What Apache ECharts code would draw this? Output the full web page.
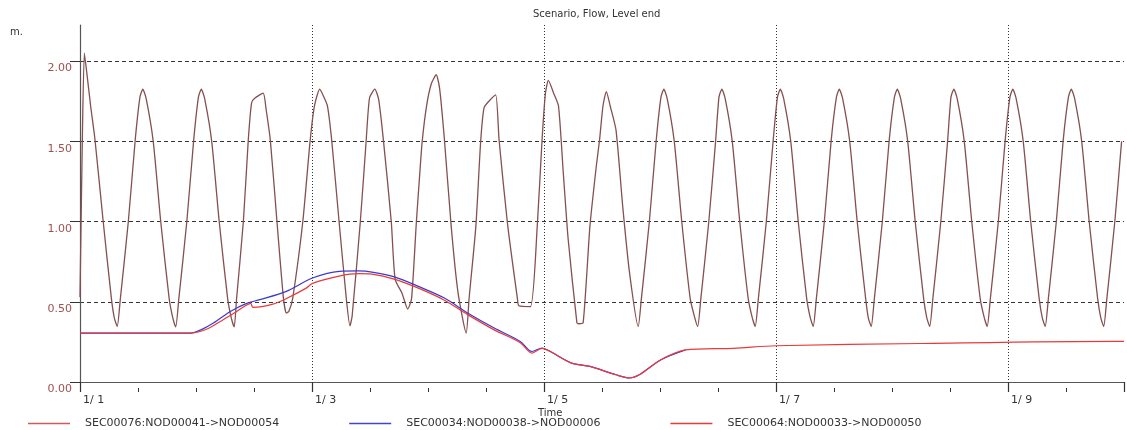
<!DOCTYPE html>
<html>
<head>
<meta charset="utf-8">
<script src="https://cdn.jsdelivr.net/npm/echarts@6/dist/echarts.min.js"></script>
<style>
  html, body { margin: 0; padding: 0; background: #ffffff; }
  #chart { width: 1127px; height: 430px; }
</style>
</head>
<body>
<div id="chart"></div>
<script>
// ---- data (x = hours since 1/1 00:00, y = level in m) ----
const seriesNames = ['SEC00076:NOD00041->NOD00054', 'SEC00034:NOD00038->NOD00006', 'SEC00064:NOD00033->NOD00050'];
const xTickHours = [0, 48, 96, 144, 192];
const yTickValues = [0, 0.5, 1, 1.5, 2];

const sec76Points = [
  [0,0.53],[0.45,1.45],[0.9,2.05],[1.4,1.93],[2.2,1.72],[3.1,1.51],[4.8,1.0],[6.5,0.52],[7.1,0.40],
  [7.7,0.346],[8.35,0.52],[10.0,1.0],[11.4,1.5],[12.4,1.775],[13.0,1.825],[13.7,1.765],[15.15,1.5],[16.7,1.0],[18.45,0.52],[19.2,0.40],
  [19.8,0.343],[20.45,0.52],[22.1,1.0],[23.5,1.5],[24.5,1.775],[25.1,1.825],[25.8,1.765],[27.25,1.5],[28.8,1.0],[30.55,0.52],[31.3,0.40],
  [31.9,0.343],[32.4,0.52],[33.8,1.0],[34.8,1.5],[35.5,1.74],[36.2,1.77],[37.9,1.80],[38.5,1.70],[39.4,1.5],[40.75,1.0],[42.1,0.52],[42.7,0.43],[43.2,0.44],
  [44.0,0.52],[46.1,1.0],[47.6,1.5],[48.5,1.72],[49.6,1.825],[50.4,1.78],[51.2,1.72],[52.1,1.5],[53.6,1.0],[55.1,0.52],[55.85,0.35],
  [56.3,0.41],[58.0,1.0],[59.2,1.5],[59.9,1.77],[61.0,1.825],[61.8,1.76],[62.8,1.5],[64.4,1.0],[65.2,0.64],[66.6,0.555],[67.8,0.455],
  [68.6,0.52],[69.6,1.0],[70.3,1.30],[70.8,1.5],[71.7,1.72],[72.7,1.86],[73.7,1.915],[74.4,1.83],[75.4,1.51],[76.8,0.97],[78.2,0.56],[79.9,0.305],
  [80.5,0.52],[81.9,0.97],[82.9,1.5],[83.6,1.71],[84.6,1.75],[86.0,1.79],[86.7,1.51],[88.4,1.0],[90.5,0.52],[90.8,0.475],[93.2,0.47],
  [94.6,0.97],[95.6,1.51],[96.3,1.80],[96.9,1.88],[98.0,1.80],[99.0,1.72],[100.0,1.30],[101.0,0.89],[102.8,0.37],[103.1,0.363],[104.1,0.37],
  [105.5,0.97],[106.8,1.34],[107.5,1.51],[108.2,1.72],[108.9,1.81],[109.7,1.72],[110.9,1.57],[112.3,1.09],[113.7,0.68],
  [115.5,0.346],[116.15,0.52],[117.8,1.0],[119.2,1.5],[120.2,1.775],[120.8,1.825],[121.5,1.765],[122.95,1.5],[124.5,1.0],[126.25,0.52],[127.2,0.40],
  [127.8,0.346],[128.45,0.52],[130.1,1.0],[131.5,1.5],[132.2,1.775],[132.8,1.825],[133.5,1.765],[134.95,1.5],[136.5,1.0],[138.25,0.52],[139.1,0.40],
  [139.7,0.346],[140.35,0.52],[142.0,1.0],[143.4,1.5],[144.3,1.775],[144.9,1.825],[145.6,1.765],[147.05,1.5],[148.6,1.0],[150.35,0.52],[151.1,0.40],
  [151.7,0.346],[152.35,0.52],[154.0,1.0],[155.4,1.5],[156.5,1.775],[157.1,1.825],[157.8,1.765],[159.25,1.5],[160.8,1.0],[162.55,0.52],[163.1,0.40],
  [163.7,0.346],[164.35,0.52],[166.0,1.0],[167.4,1.5],[168.5,1.775],[169.1,1.825],[169.8,1.765],[171.25,1.5],[172.8,1.0],[174.55,0.52],[175.2,0.40],
  [175.8,0.346],[176.45,0.52],[178.1,1.0],[179.5,1.5],[180.2,1.775],[180.8,1.825],[181.5,1.765],[182.95,1.5],[184.5,1.0],[186.25,0.52],[187.1,0.40],
  [187.7,0.346],[188.35,0.52],[190.0,1.0],[191.4,1.5],[192.4,1.775],[193.0,1.825],[193.7,1.765],[195.15,1.5],[196.7,1.0],[198.45,0.52],[199.1,0.40],
  [199.7,0.346],[200.35,0.52],[202.0,1.0],[203.4,1.5],[204.5,1.775],[205.1,1.825],[205.8,1.765],[207.25,1.5],[208.8,1.0],[210.55,0.52],[211.2,0.40],
  [211.8,0.346],[212.45,0.52],[214.1,1.0],[215.5,1.5]
];

const sec34Points = [
  [0,0.305],[22.9,0.305],[25.0,0.325],[27.6,0.368],[31.1,0.44],[34.5,0.49],[37.2,0.513],[42.7,0.565],[48.1,0.648],
  [53.6,0.69],[57.7,0.692],[60.4,0.685],[65.2,0.654],[70.0,0.596],[75.4,0.523],[80.2,0.43],[85.7,0.336],[91.1,0.253],
  [93.5,0.19],[95.6,0.212],[97.3,0.19],[101.7,0.118],[105.5,0.097],[110.9,0.045],[113.7,0.025],[115.7,0.045],[120.2,0.139],[125.3,0.20]
];

const sec64Points = [
  [0,0.305],[22.9,0.305],[26.3,0.33],[29.7,0.39],[32.4,0.44],[34.5,0.48],[35.3,0.49],[35.8,0.465],[39.9,0.485],[42.7,0.52],
  [46.8,0.585],[48.1,0.615],[53.6,0.66],[57.7,0.675],[60.4,0.672],[65.2,0.64],[70.0,0.585],[75.4,0.51],[80.2,0.42],[85.7,0.325],
  [91.1,0.245],[93.5,0.18],[95.6,0.21],[97.3,0.19],[101.7,0.118],[105.5,0.097],[110.9,0.045],[113.7,0.025],[115.7,0.045],
  [120.2,0.139],[125.3,0.20],[135.2,0.21],[144.0,0.226],[174.0,0.24],[214.4,0.253],[216,0.253]
];

// ---- chart ----
const FONT = 'DejaVu Sans';
const chart = echarts.init(document.getElementById('chart'), null, { renderer: 'canvas' });

const option = {
  backgroundColor: '#ffffff',
  animation: false,
  title: [
    { text: 'Scenario, Flow, Level end', left: 528, top: 4,
      textStyle: { fontSize: 10, fontWeight: 'normal', color: '#333', fontFamily: FONT } },
    { text: 'm.', left: 5, top: 22,
      textStyle: { fontSize: 10, fontWeight: 'normal', color: '#333', fontFamily: FONT } },
    { text: 'Time', left: 533, top: 403,
      textStyle: { fontSize: 10, fontWeight: 'normal', color: '#333', fontFamily: FONT } }
  ],
  legend: {
    orient: 'horizontal', left: 28, top: 418, padding: 0,
    icon: 'rect', itemWidth: 42, itemHeight: 1.3, itemGap: 70,
    textStyle: { fontSize: 11, color: '#333', fontFamily: FONT, padding: [0, 0, 0, 10] },
    data: [
      { name: seriesNames[0], itemStyle: { color: '#d05a5a' } },
      { name: seriesNames[1], itemStyle: { color: '#4444cc' } },
      { name: seriesNames[2], itemStyle: { color: '#e83a3a' } }
    ]
  },
  grid: { left: 80, right: -8, top: 25, bottom: 48, containLabel: false },
  xAxis: [
    {
      type: 'value', position: 'bottom', min: 0, max: 216, interval: 48, offset: 6,
      axisLine: { show: true, lineStyle: { color: '#555', width: 1.2 } },
      axisTick: { show: true, length: 10, lineStyle: { color: '#333', width: 1.2 } },
      axisLabel: {
        color: '#333', fontSize: 11, fontFamily: FONT, align: 'left', margin: 7, padding: [0, 0, 0, 3],
        formatter: v => (xTickHours.indexOf(v) >= 0 ? '1/ ' + (1 + v / 24) : '')
      },
      splitLine: { show: true, showMinLine: false, showMaxLine: false, lineStyle: { type: [1, 2], color: '#333', width: 1 } }
    },
    {
      type: 'value', position: 'bottom', min: 0, max: 216, interval: 12, offset: 6,
      axisLine: { show: false },
      axisTick: { show: true, length: 4, lineStyle: { color: '#333', width: 1 } },
      axisLabel: { show: false },
      splitLine: { show: false }
    }
  ],
  yAxis: {
    type: 'value', min: 0, max: 2.225, interval: 0.5,
    axisLine: { show: true, lineStyle: { color: '#555', width: 1.2 } },
    axisTick: { show: true, length: 10, customValues: yTickValues, lineStyle: { color: '#333', width: 1 } },
    axisLabel: {
      customValues: yTickValues, color: '#a05050', fontSize: 11, fontFamily: FONT,
      margin: 8, verticalAlign: 'top', padding: [2, 0, 0, 0],
      formatter: v => (yTickValues.indexOf(v) >= 0 ? v.toFixed(2) : '')
    },
    splitLine: { show: true, showMinLine: true, showMaxLine: true, lineStyle: { type: [4, 3], color: '#333', width: 1 } }
  },
  series: [
    {
      name: seriesNames[0], type: 'line', xAxisIndex: 0, data: sec76Points,
      symbol: 'none', smooth: 0.2, itemStyle: { color: '#d05a5a' },
      lineStyle: { color: '#845050', width: 1.3 }, z: 2
    },
    {
      name: seriesNames[1], type: 'line', xAxisIndex: 0, data: sec34Points,
      symbol: 'none', smooth: 0.3, itemStyle: { color: '#4444cc' },
      lineStyle: { color: '#3a3ad0', width: 1.2 }, z: 3
    },
    {
      name: seriesNames[2], type: 'line', xAxisIndex: 0, data: sec64Points,
      symbol: 'none', smooth: 0.3, itemStyle: { color: '#e83a3a' },
      lineStyle: { color: '#e83a3a', width: 1.2 }, z: 4
    }
  ]
};
chart.setOption(option);
</script>
</body>
</html>
